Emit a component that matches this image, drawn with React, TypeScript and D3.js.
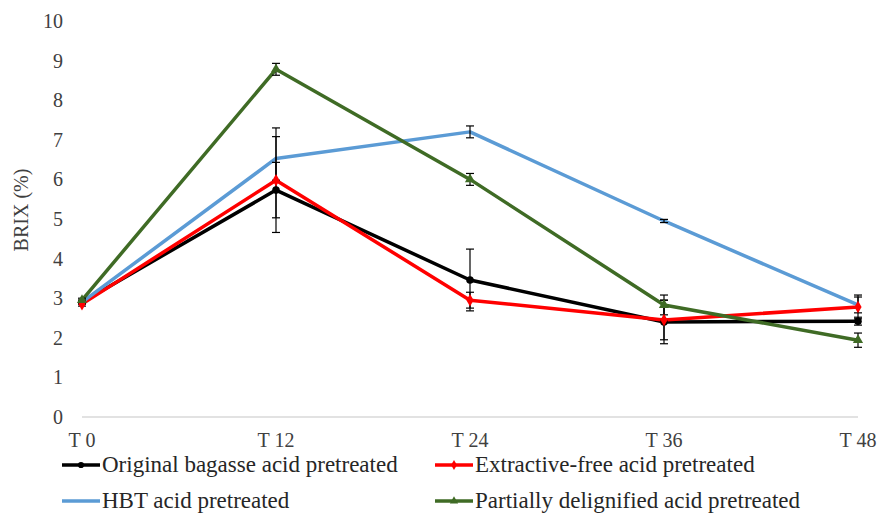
import React from "react";
import * as d3 from "d3";

// time points (hours)
const categories = ["T 0", "T 12", "T 24", "T 36", "T 48"];
const yTicks = [0, 1, 2, 3, 4, 5, 6, 7, 8, 9, 10];

const originalVals = [2.9, 5.73, 3.46, 2.4, 2.42];
const originalErr = [0.05, 0.7, 0.78, 0.55, 0.1];

const extractiveVals = [2.85, 5.98, 2.95, 2.45, 2.78];
const extractiveErr = [0.05, 1.32, 0.2, 0.5, 0.3];

const hbtVals = [2.9, 6.53, 7.2, 4.95, 2.83];
const hbtErr = [0.05, 0.55, 0.15, 0.04, 0.2];

const delignVals = [2.95, 8.78, 6.0, 2.83, 1.94];
const delignErr = [0.05, 0.15, 0.15, 0.25, 0.18];

const seriesNames = [
  "Original bagasse acid pretreated",
  "Extractive-free acid pretreated",
  "HBT acid pretreated",
  "Partially delignified acid pretreated",
];

const W = 880, H = 515;
const FONT = "Liberation Serif";

export default function App() {
  const x = d3.scalePoint<string>().domain(categories).range([82, 858]);
  const y = d3.scaleLinear().domain([0, 10]).range([417, 21]);

  const series = [
    { name: seriesNames[0], vals: originalVals, err: originalErr, color: "#000000", marker: "circle" },
    { name: seriesNames[1], vals: extractiveVals, err: extractiveErr, color: "#ff0000", marker: "diamond" },
    { name: seriesNames[2], vals: hbtVals, err: hbtErr, color: "#5b9bd5", marker: "none" },
    { name: seriesNames[3], vals: delignVals, err: delignErr, color: "#3f6b25", marker: "triangle" },
  ];

  const line = d3.line<number>()
    .x((d, i) => x(categories[i]) as number)
    .y(d => y(d));

  const markerPath = (type: string, size: number) => {
    if (type === "circle") return d3.symbol(d3.symbolCircle, size)() as string;
    if (type === "diamond") return d3.symbol(d3.symbolDiamond, size)() as string;
    if (type === "triangle") return d3.symbol(d3.symbolTriangle, size)() as string;
    return "";
  };

  const legendPos = [
    { lx: 62, ly: 465 },
    { lx: 435, ly: 465 },
    { lx: 62, ly: 501 },
    { lx: 435, ly: 501 },
  ];

  const txt = { fontFamily: FONT };

  return (
    <svg width={W} height={H} style={{ position: "absolute", left: 0, top: 0, background: "#fff" }}>
      <rect width={W} height={H} fill="#fff" />
      {/* y axis labels */}
      {yTicks.map(t => (
        <text key={t} x={63} y={y(t)} dy="0.35em" textAnchor="end" fontSize={20} fill="#404040" style={txt}>{t}</text>
      ))}
      <text transform={`translate(28,${210}) rotate(-90)`} textAnchor="middle" fontSize={20} fill="#404040" style={txt}>BRIX (%)</text>
      {/* x axis */}
      <line x1={82} x2={858} y1={y(0)} y2={y(0)} stroke="#d9d9d9" strokeWidth={1.5} />
      {categories.map(c => (
        <text key={c} x={x(c)} y={447} textAnchor="middle" fontSize={20} fill="#404040" style={txt}>{c}</text>
      ))}
      {/* lines */}
      {series.map(s => (
        <path key={s.name} d={line(s.vals) as string} fill="none" stroke={s.color} strokeWidth={3.5} strokeLinejoin="round" />
      ))}
      {/* error bars */}
      {series.map(s => (
        <g key={s.name + "-err"} stroke="#000" strokeWidth={1.2}>
          {s.vals.map((v, i) => {
            const cx = x(categories[i]) as number;
            const y1 = y(v + s.err[i]);
            const y2 = y(v - s.err[i]);
            return (
              <g key={i}>
                <line x1={cx} x2={cx} y1={y1} y2={y2} />
                <line x1={cx - 4} x2={cx + 4} y1={y1} y2={y1} />
                <line x1={cx - 4} x2={cx + 4} y1={y2} y2={y2} />
              </g>
            );
          })}
        </g>
      ))}
      {/* markers */}
      {series.filter(s => s.marker !== "none").map(s => (
        <g key={s.name + "-mk"} fill={s.color}>
          {s.vals.map((v, i) => (
            <path key={i} d={markerPath(s.marker, 45)} transform={`translate(${x(categories[i])},${y(v)})`} />
          ))}
        </g>
      ))}
      {/* legend */}
      {series.map((s, i) => {
        const { lx, ly } = legendPos[i];
        return (
          <g key={s.name + "-lg"}>
            <line x1={lx} x2={lx + 38} y1={ly} y2={ly} stroke={s.color} strokeWidth={3.5} />
            {s.marker !== "none" && (
              <path d={markerPath(s.marker, 30)} transform={`translate(${lx + 19},${ly})`} fill={s.color} />
            )}
            <text x={lx + 40} y={ly + 7} fontSize={23} fill="#262626" style={txt}>{s.name}</text>
          </g>
        );
      })}
    </svg>
  );
}
